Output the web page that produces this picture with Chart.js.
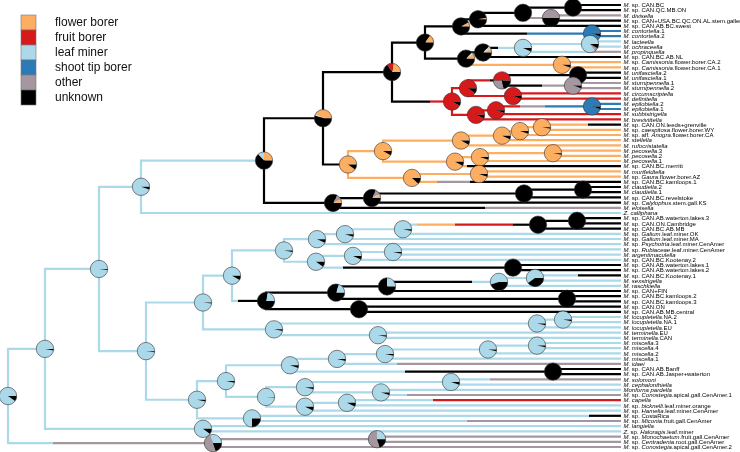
<!DOCTYPE html>
<html><head><meta charset="utf-8">
<script src="https://cdn.jsdelivr.net/npm/chart.js@4/dist/chart.umd.min.js"></script>
<style>html,body{margin:0;padding:0;background:#fff}canvas{display:block}</style>
</head><body>
<canvas id="c" width="740" height="452"></canvas>
<script>
// ---- states / legend ----
const stateKeys = ['fl','fr','lm','st','ot','un'];
const stateNames = ['flower borer','fruit borer','leaf miner','shoot tip borer','other','unknown'];
const stateColors = ['#FDAE61','#D7191C','#ABD9E9','#2C7BB6','#A4979F','#000000'];

// ---- tip labels (top to bottom), _..._ = italic ----
const tipLabels = [
"_M._ sp. CAN.BC","_M._ sp. CAN.QC.MB.ON","_M. divisella_","_M._ sp. CAN+USA.BC.QC.ON.AL.stem.galler",
"_M._ sp. CAN.AB.BC.swest","_M. contortella_.1","_M. contortella_.2","_M. lacteella_","_M. ochraceella_",
"_M. propinquella_","_M._ sp. CAN.BC.AB.NL","_M._ sp. _Camissonia_.flower.borer.CA.2","_M._ sp. _Camissonia_.flower.borer.CA.1",
"_M. unifasciella_.2","_M. unifasciella_.1","_M. sturnipennella_.1","_M. sturnipennella_.2","_M. circumscriptella_",
"_M. definitella_","_M. epilobiella_.2","_M. epilobiella_.1","_M. subbistrigella_","_M. brevivittella_",
"_M._ sp. CAN.ON.leeds+grenville","_M._ sp. _caespitosa_.flower.borer.WY","_M._ sp. aff. _Anogra_.flower.borer.CA",
"_M. stellella_","_M. rufocristatella_","_M. pecosella_.3","_M. pecosella_.2","_M. pecosella_.1",
"_M._ sp. CAN.BC.merritt","_M. murtfeldtella_","_M._ sp. _Gaura_.flower.borer.AZ","_M._ sp. CAN.BC.kamloops.1",
"_M. claudiella_.2","_M. claudiella_.1","_M._ sp. CAN.BC.revelstoke","_M._ sp. _Calylophus_.stem.gall.KS",
"_M. eloisella_","_Z. calliphana_","_M._ sp. CAN.AB.waterton.lakes.3","_M._ sp. CAN.ON.Cambridge",
"_M._ sp. CAN.BC.AB.MB","_M._ sp. _Galium_.leaf.miner.OK","_M._ sp. _Galium_.leaf.miner.MA",
"_M._ sp. _Psychotria_.leaf.miner.CenAmer","_M._ sp. _Rubiaceae_.leaf.miner.CenAmer","_M. argentimaculella_",
"_M._ sp. CAN.BC.Kootenay.2","_M._ sp. CAN.AB.waterton.lakes.1","_M._ sp. CAN.AB.waterton.lakes.2",
"_M._ sp. CAN.BC.Kootenay.1","_M. sexstrigella_","_M. raschkiella_","_M._ sp. CAN+FIN",
"_M._ sp. CAN.BC.kamloops.2","_M._ sp. CAN.BC.kamloops.3","_M._ sp. CAN.ON","_M._ sp. CAN.AB.MB.central",
"_M. locupletella_.NA.2","_M. locupletella_.NA.1","_M. locupletella_.EU","_M. terminella_.EU","_M. terminella_.CAN",
"_M. miscella_.3","_M. miscella_.4","_M. miscella_.2","_M. miscella_.1","_M. idaei_",
"_M._ sp. CAN.AB.Banff","_M._ sp. CAN.AB.Jasper+waterton","_M. solomoni_","_M. cephalonthiella_",
"_Monforna pardella_","_M._ sp. _Conostegia_.apical.gall.CenAmer.1","_M. capella_",
"_M._ sp. _bicknelli_.leaf.miner.orange","_M._ sp. _Hamelia_.leaf.miner.CenAmer","_M._ sp. CostaRica",
"_M._ sp. _Miconia_.fruit.gall.CenAmer","_M. langiella_","_Z._ sp. _Haloragis_.leaf.miner",
"_M._ sp. _Monochaetum_.fruit.gall.CenAmer","_M._ sp. _Centradenia_.root.gall.CenAmer",
"_M._ sp. _Conostegia_.apical.gall.CenAmer.2"
];
const tipDepth = 621;

// ---- internal nodes ----
const nodeNames = ["root","A","B","N45","C","N99","N141","D","E","F",
"N425","N461","H","G","G1","G2","I","N466","N483","J",
"K","Cam","R","R1","R11","U","S","R12","R2","R21",
"Ep","O1","O2","O4","O6","O7","O8","O5","O9","O10",
"O3","O11","N333","N372","N524","Cl","N146","N203","N232","N284",
"N317","N345","N403","N538","N577","N316","N353","N393","N513","N266",
"N336","N387","N499","N535","N567","N359","N274","N537","N563","N378",
"N197","N226","N290","N337","N385","N488","N537b","N553","N266b","N305a",
"N451","N381","N305b","N347","N252"];
const nodeDepths = [8,213,377,45,203,99,141,264,323,392,
425,461,478,523,573,551,592,466,483,523,
590,562,452,468,502,578,573,513,476,496,
592,348,383,461,502,520,542,455,480,553,
412,479,333,372,524,583,146,203,232,284,
317,345,403,538,577,316,353,393,513,266,
336,387,499,535,567,359,274,537,563,378,
197,226,290,337,385,488,537,553,266,305,
451,381,305,347,252];
const nodeChildren = [["N45","A"],["B","t86"],["t84","t85"],["N99","C"],["t82","t83"],["N141","N146"],["D","t41"],["E","N333"],["F","O1"],["N425","R"],
["N461","N466"],["H","I"],["G","t5"],["G1","G2"],["t1","t2"],["t3","t4"],["t6","t7"],["N483","Cam"],["J","t11"],["K","t10"],
["t8","t9"],["t12","t13"],["R1","R2"],["R11","R12"],["U","S"],["t14","t15"],["t16","t17"],["t18","t19"],["R21","t23"],["Ep","t22"],
["t20","t21"],["O2","O3"],["O4","O5"],["O6","t28"],["O7","t27"],["O8","t26"],["t24","t25"],["O9","t32"],["O10","t31"],["t29","t30"],
["O11","t35"],["t33","t34"],["N372","t40"],["N524","t39"],["Cl","t38"],["t36","t37"],["N203","N197"],["N232","N274"],["N284","N266"],["N317","N316"],
["N345","t47"],["N403","t46"],["N538","t45"],["N577","t44"],["t42","t43"],["N353","N513"],["N393","t50"],["t48","t49"],["t51","t52"],["N336","N359"],
["N387","N567"],["N499","t56"],["N535","t55"],["t53","t54"],["t57","t58"],["t59","t60"],["N537","N378"],["N563","t63"],["t61","t62"],["t64","t65"],
["N226","N252"],["N290","N266b"],["N337","N553"],["N385","t70"],["N488","t69"],["N537b","t68"],["t66","t67"],["t71","t72"],["N305a","N305b"],["N451","N381"],
["t73","t74"],["t75","t76"],["N347","t79"],["t77","t78"],["t80","t81"]];
// state along each child edge: "a:pos,b:pos,c" = a until pos, then b until pos, then c to the child
const edgeStates = [["lm","lm:53,ot"],["ot","ot"],["ot","ot"],["lm","lm"],["lm","lm"],["lm","lm"],["lm","lm"],["un","un"],["un","un"],["un","un:430,fr"],
["un","un"],["un","un:527,st"],["un","un"],["un","ot"],["un","un"],["ot","un"],["st","st"],["un","fl"],["un:498,lm","un"],["lm","lm:592,ot"],
["lm","lm"],["fl","fl"],["fr","fr"],["fr:490,un","fr"],["un","un:542,ot"],["un","un"],["ot","ot"],["fr","fr"],["fr","fr"],["fr:520,ot:545,st","fr"],
["st","st"],["fl","fl"],["fl","fl"],["fl","fl"],["fl","fl"],["fl","fl"],["fl:588,un","fl"],["fl","fl:467,un"],["fl","fl"],["fl","fl"],
["fl","fl:437,ot:470,un"],["fl","fl"],["un","un:485,ot"],["un","un"],["un","un"],["un","un"],["lm","lm"],["lm","lm"],["lm","lm:238,un"],["lm","lm"],
["lm","lm"],["lm","lm"],["lm:417,fl:455,fr:513,un","lm"],["un","un"],["un","un"],["lm","lm:343,un"],["lm","lm"],["lm","lm"],["un","un"],["un","un"],
["un","un"],["un:472,lm","un"],["lm","lm"],["lm:578,un","lm"],["un","un"],["un","un"],["lm","lm"],["lm","lm"],["lm","lm"],["lm","lm"],
["lm","lm"],["lm","lm"],["lm","lm:405,un"],["lm","lm:397,ot"],["lm","lm"],["lm","lm"],["lm","lm"],["un","un"],["lm","lm"],["lm","lm"],
["lm:490,ot","lm"],["lm","lm:407,ot"],["lm","lm"],["lm:433,fr","lm"],["lm:589,un","lm:467,ot"]];
// marginal state probabilities at each node
const nodePies = ["lm:.9,un:.1","lm:.3,ot:.5,un:.2","lm:.25,ot:.55,un:.2","lm:.97,un:.03","lm:.9,un:.1","lm:.98,un:.02","lm:.95,un:.05","fl:.25,lm:.12,un:.63","fl:.42,lm:.03,un:.55","fl:.22,fr:.12,un:.66",
"fl:.15,un:.85","fl:.08,un:.92","fl:.03,un:.97","un:1","un:1","ot:.5,un:.5","st:.95,un:.05","fl:.1,lm:.03,un:.87","fl:.07,lm:.06,un:.87","lm:.93,un:.07",
"lm:.85,ot:.07,un:.08","fl:.95,un:.05","fr:.92,un:.08","fr:.9,un:.1","fr:.5,ot:.28,un:.22","un:1","ot:.95,un:.05","fr:.95,un:.05","fr:.93,un:.07","fr:.95,un:.05",
"st:.95,un:.05","fl:.9,un:.1","fl:.92,un:.08","fl:.92,un:.08","fl:.93,un:.07","fl:.95,un:.05","fl:.97,un:.03","fl:.92,un:.08","fl:.95,un:.05","fl:.97,un:.03",
"fl:.88,un:.12","fl:.95,un:.05","fl:.07,ot:.1,un:.83","fl:.06,lm:.02,ot:.1,un:.82","un:1","un:1","lm:.98,un:.02","lm:.98,un:.02","lm:.92,un:.08","lm:.97,un:.03",
"lm:.93,un:.07","lm:.95,un:.05","lm:.97,un:.03","un:1","un:1","lm:.9,un:.1","lm:.93,un:.07","lm:.97,un:.03","un:1","lm:.22,un:.78",
"lm:.2,un:.8","lm:.25,un:.75","lm:.55,un:.45","lm:.6,un:.4","un:1","un:1","lm:.97,un:.03","lm:.97,un:.03","lm:.97,un:.03","lm:.97,un:.03",
"lm:.97,un:.03","lm:.97,un:.03","lm:.95,un:.05","lm:.96,un:.04","lm:.97,un:.03","lm:.97,un:.03","lm:.97,un:.03","un:1","lm:.99,un:.01","lm:.96,un:.04",
"lm:.95,un:.05","lm:.95,un:.05","lm:.93,un:.07","lm:.93,un:.07","lm:.75,un:.25"];

// ---- build ----
const nodeIndex = {}; nodeNames.forEach((n,i)=>nodeIndex[n]=i);
const isTip = n => /^t\d+$/.test(n);
const yCache = {};
function yOf(n){ if(isTip(n)) return +n.slice(1)-1; if(n in yCache) return yCache[n];
  const c=nodeChildren[nodeIndex[n]]; return (yCache[n]=(yOf(c[0])+yOf(c[1]))/2); }
function xOf(n){ return isTip(n)?tipDepth:nodeDepths[nodeIndex[n]]; }
const colOf = k => stateColors[stateKeys.indexOf(k)];
function parseEdge(s,end){ return s.split(',').map(p=>{const [k,v]=p.split(':'); return [k, v===undefined?end:+v];}); }

const datasets=[];
const LW=2.2;
nodeNames.forEach((n,i)=>{
  const px=nodeDepths[i], py=yOf(n);
  nodeChildren[i].forEach((c,k)=>{
    const cx=xOf(c), cy=yOf(c);
    const segs=parseEdge(edgeStates[i][k],cx);
    let start=px;
    segs.forEach(([st,end],j)=>{
      const pts = j===0 ? [{x:px,y:py},{x:px,y:cy},{x:end,y:cy}] : [{x:start,y:cy},{x:end,y:cy}];
      datasets.push({data:pts,borderColor:colOf(st),borderWidth:LW,showLine:true,pointRadius:0,tension:0,
        borderCapStyle:'butt',borderJoinStyle:'miter',fill:false});
      start=end;
    });
  });
});

const R=8.7;
const piePlugin={id:'pies',afterDatasetsDraw(chart){
  const {ctx,scales:{x,y}}=chart; ctx.save();
  nodeNames.forEach((n,i)=>{
    const cx=x.getPixelForValue(nodeDepths[i]), cy=y.getPixelForValue(yOf(n));
    const parts=nodePies[i].split(',').map(p=>{const [k,v]=p.split(':');return [k,+v];})
      .sort((a,b)=>stateKeys.indexOf(a[0])-stateKeys.indexOf(b[0]));
    let a=0;
    parts.forEach(([k,f])=>{
      const a2=a-f*2*Math.PI;
      ctx.beginPath(); ctx.moveTo(cx,cy); ctx.arc(cx,cy,R,a,a2,true); ctx.closePath();
      ctx.fillStyle=colOf(k); ctx.fill();
      a=a2;
    });
    ctx.beginPath(); ctx.arc(cx,cy,R,0,2*Math.PI); ctx.lineWidth=0.6; ctx.strokeStyle='#333'; ctx.stroke();
  });
  ctx.restore();
}};

const labelPlugin={id:'tiplabels',afterDraw(chart){
  const {ctx,scales:{x,y}}=chart; ctx.save();
  ctx.textBaseline='alphabetic'; ctx.fillStyle='#000';
  const fs=6, fam='"Liberation Sans", Arial, sans-serif';
  tipLabels.forEach((lab,i)=>{
    let tx=x.getPixelForValue(tipDepth)+2.5; const ty=y.getPixelForValue(i)+2.2;
    lab.split('_').forEach((part,j)=>{
      if(!part) return;
      ctx.font=(j%2===1?'italic ':'')+fs+'px '+fam;
      ctx.fillText(part,tx,ty); tx+=ctx.measureText(part).width;
    });
  });
  // legend
  ctx.textBaseline='middle';
  ctx.font='12px "Liberation Sans", Arial, sans-serif';
  stateNames.forEach((nm,i)=>{
    const bx=21, by=15+15*i;
    ctx.fillStyle=stateColors[i]; ctx.fillRect(bx,by,15,15);
    ctx.strokeStyle='#777'; ctx.lineWidth=0.6; ctx.strokeRect(bx,by,15,15);
    ctx.fillStyle='#111'; ctx.fillText(nm,55,by+8);
  });
  ctx.restore();
}};

const yMin=-5/5.2, yMax=yMin+452/5.2;
new Chart(document.getElementById('c'),{
  type:'scatter',
  data:{datasets},
  options:{responsive:false,animation:false,devicePixelRatio:1,
    layout:{padding:0},
    plugins:{legend:{display:false},tooltip:{enabled:false}},
    scales:{x:{type:'linear',display:false,min:0,max:740},
            y:{type:'linear',display:false,min:yMin,max:yMax,reverse:true}}},
  plugins:[piePlugin,labelPlugin]
});
</script>
</body></html>
